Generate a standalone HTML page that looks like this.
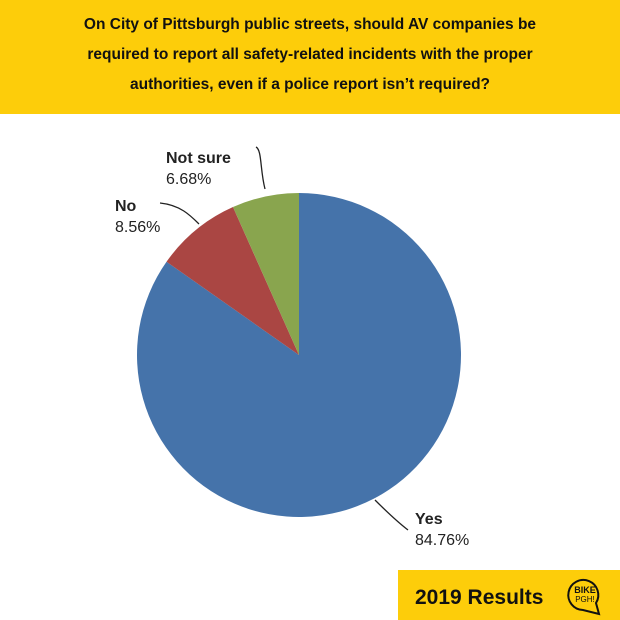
<!DOCTYPE html>
<html><head><meta charset="utf-8"><style>
body{margin:0;width:620px;height:620px;background:#fff;font-family:"Liberation Sans",sans-serif;overflow:hidden;position:relative}
#hdr{position:absolute;left:0;top:0;width:620px;height:114px;background:#fdcd0a;text-align:center;font-weight:bold;font-size:15.5px;line-height:30px;padding-top:10px;box-sizing:border-box;color:#111}
#badge{position:absolute;left:398px;top:570px;width:222px;height:50px;background:#fdcd0a}
svg{position:absolute;left:0;top:0}
</style></head><body>
<div id="hdr">On City of Pittsburgh public streets, should AV companies be<br>required to report all safety-related incidents with the proper<br>authorities, even if a police report isn’t required?</div>
<div id="badge"></div>
<svg id="chart" width="620" height="620">
<text x="415" y="604" font-size="21" font-weight="bold" fill="#111">2019 Results</text>
<g>
<path d="M583,610 A15,15 0 1 1 596,603 L599,614 Z" fill="none" stroke="#111" stroke-width="2"/>
<text x="585" y="593" font-size="9" font-weight="bold" text-anchor="middle" fill="#111">BIKE</text>
<text x="585" y="602" font-size="8" text-anchor="middle" fill="#111">PGH!</text>
</g>
</svg>
<script>
const categories=["Yes","No","Not sure"];
const values=[84.76,8.56,6.68];
const labels=["84.76%","8.56%","6.68%"];
const colors=["#4573aa","#aa4643","#89a54e"];
const svg=document.getElementById('chart');
const NS="http://www.w3.org/2000/svg";
const cx=299,cy=355,r=162;
const total=values.reduce((a,b)=>a+b,0);
function pt(f){const a=f*2*Math.PI-Math.PI/2;return [cx+r*Math.cos(a),cy+r*Math.sin(a)];}
let acc=0;
values.forEach((v,i)=>{
 const s=acc/total,e=(acc+v)/total;acc+=v;
 const p0=pt(s),p1=pt(e);const large=(e-s)>0.5?1:0;
 const p=document.createElementNS(NS,'path');
 p.setAttribute('d',`M${cx},${cy} L${p0[0]},${p0[1]} A${r},${r} 0 ${large} 1 ${p1[0]},${p1[1]} Z`);
 p.setAttribute('fill',colors[i]);
 
 
 svg.appendChild(p);
});
const lblPos=[[415,524,"M375,500 C385,510 395,520 408,530"],[115,211,"M160,203 C180,205 190,215 199,224"],[166,163,"M256,147 C262,150 260,170 265,189"]];
categories.forEach((c,i)=>{
 const lp=lblPos[i];
 const ln=document.createElementNS(NS,'path');
 ln.setAttribute('d',lp[2]);ln.setAttribute('fill','none');ln.setAttribute('stroke','#222');ln.setAttribute('stroke-width','1.3');
 
 
 svg.appendChild(ln);
 const t=document.createElementNS(NS,'text');
 t.setAttribute('x',lp[0]);t.setAttribute('y',lp[1]);t.setAttribute('font-size','16');t.setAttribute('fill','#222');
 
 
 const a=document.createElementNS(NS,'tspan');a.setAttribute('x',lp[0]);a.setAttribute('font-weight','bold');a.textContent=c;
 const b=document.createElementNS(NS,'tspan');b.setAttribute('x',lp[0]);b.setAttribute('dy','21');b.textContent=labels[i];
 t.appendChild(a);t.appendChild(b);svg.appendChild(t);
});
</script>
</body></html>
